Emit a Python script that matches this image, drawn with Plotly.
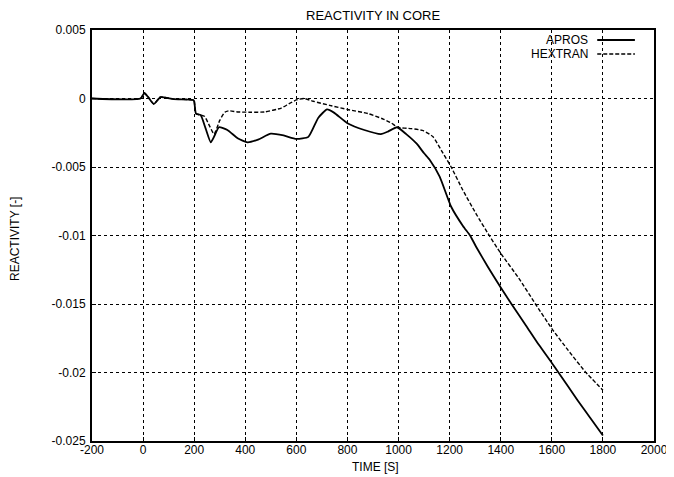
import plotly.graph_objects as go

# ---- data ----
series_names = ["APROS", "HEXTRAN"]

apros_t = [-200, -10, 5, 20, 42, 68, 120, 195, 200, 207, 225, 245, 265, 280, 297,
           330, 370, 409, 450, 500, 550, 600, 647, 686, 720, 747, 800, 866, 931,
           960, 994, 1030, 1071, 1100, 1123, 1161, 1206, 1252, 1280, 1303, 1350,
           1400, 1442, 1500, 1550, 1600, 1626, 1700, 1750, 1800]
apros_r = [0, 0, 0.0004, 0.0001, -0.0004, 0.0001, -0.00005, -0.0001, -0.0002,
           -0.0011, -0.0012, -0.0022, -0.0032, -0.0027, -0.0021, -0.0023, -0.0029,
           -0.0032, -0.0030, -0.00257, -0.0027, -0.00295, -0.0028, -0.0014,
           -0.0008, -0.00103, -0.0018, -0.0023, -0.0026, -0.0024, -0.0021,
           -0.0026, -0.0033, -0.0040, -0.0045, -0.0057, -0.0079, -0.0093,
           -0.0100, -0.0108, -0.0123, -0.0138, -0.0150, -0.0166, -0.0180,
           -0.0193, -0.0200, -0.0220, -0.0233, -0.0246]

hextran_t = [-200, -10, 5, 20, 42, 68, 120, 195, 200, 207, 240, 260, 278, 300, 320,
             335, 370, 420, 475, 541, 570, 600, 630, 666, 730, 800, 880, 940, 973,
             996, 1050, 1097, 1135, 1168, 1206, 1252, 1303, 1355, 1400, 1470, 1536,
             1600, 1665, 1729, 1800]
hextran_r = [0, 0, 0.0004, 0.0001, -0.0004, 0.0001, -0.00005, -0.0001, -0.0002,
             -0.0011, -0.0013, -0.0020, -0.0026, -0.0016, -0.0010, -0.0009,
             -0.00098, -0.0010, -0.00098, -0.0007, -0.0004, -0.0001, 0.0, -0.0002,
             -0.0005, -0.0008, -0.0011, -0.0015, -0.0018, -0.0021, -0.0022,
             -0.00235, -0.0028, -0.0038, -0.0050, -0.0067, -0.0084, -0.0100,
             -0.0113, -0.0131, -0.0150, -0.0168, -0.0184, -0.0199, -0.0213]

x_ticks = [-200, 0, 200, 400, 600, 800, 1000, 1200, 1400, 1600, 1800, 2000]
x_tick_labels = ["-200", "0", "200", "400", "600", "800", "1000", "1200", "1400",
                 "1600", "1800", "2000"]
y_ticks = [0.005, 0, -0.005, -0.01, -0.015, -0.02, -0.025]
y_tick_labels = ["0.005", "0", "-0.005", "-0.01", "-0.015", "-0.02", "-0.025"]

title_text = "REACTIVITY IN CORE"
x_title = "TIME [S]"
y_title = "REACTIVITY [-]"

FONT = "Liberation Sans, Arial, sans-serif"

fig = go.Figure()
fig.add_trace(go.Scatter(x=apros_t, y=apros_r, mode="lines", name=series_names[0],
                         line=dict(color="black", width=1.8, shape="spline",
                                   smoothing=0.5),
                         showlegend=False))
fig.add_trace(go.Scatter(x=hextran_t, y=hextran_r, mode="lines", name=series_names[1],
                         line=dict(color="black", width=1.4, dash="4px,2px",
                                   shape="spline", smoothing=0.5),
                         showlegend=False))

# legend drawn in the style of the original (text left, line sample right)
leg_y = [0.9757, 0.9416]
leg_dash = ["solid", "4px,2px"]
leg_w = [1.8, 1.4]
for i, name in enumerate(series_names):
    fig.add_annotation(xref="paper", yref="paper", x=0.884, y=leg_y[i],
                       text=name, showarrow=False, xanchor="right", yanchor="middle",
                       borderpad=0,
                       font=dict(family=FONT, size=12, color="black"))
    fig.add_shape(type="line", xref="paper", yref="paper",
                  x0=0.899, x1=0.966, y0=leg_y[i], y1=leg_y[i],
                  line=dict(color="black", width=leg_w[i], dash=leg_dash[i]))

# axis titles placed as in the original
fig.add_annotation(xref="paper", yref="paper", x=0.5036, y=-0.063, text=x_title,
                   showarrow=False, xanchor="center", yanchor="middle",
                   font=dict(family=FONT, size=12, color="black"))
fig.add_annotation(xref="paper", yref="paper", x=-0.137, y=0.4915, text=y_title,
                   showarrow=False, xanchor="center", yanchor="middle", textangle=-90,
                   font=dict(family=FONT, size=12, color="black"))

fig.update_layout(
    width=674, height=477,
    margin=dict(l=84, r=28, t=22, b=44),
    paper_bgcolor="white", plot_bgcolor="white",
    font=dict(family=FONT, size=12, color="black"),
    title=dict(text=title_text, x=0.5417, xanchor="center", y=0.985, yanchor="middle",
               font=dict(family=FONT, size=13, color="black"), automargin=False),
)
fig.update_xaxes(range=[-200, 2000], tickvals=x_ticks, ticktext=x_tick_labels,
                 ticks="inside", ticklen=4,
                 tickcolor="black", showgrid=True, gridcolor="black", griddash="dot",
                 gridwidth=1, zeroline=False, showline=True, linecolor="black",
                 linewidth=2, mirror=True, automargin=False, ticklabelstandoff=-3,
                 tickfont=dict(size=12))
fig.update_yaxes(range=[-0.025, 0.005], tickvals=y_ticks, ticktext=y_tick_labels,
                 ticks="inside", ticklen=4, tickcolor="black", showgrid=True,
                 gridcolor="black", griddash="dot", gridwidth=1, zeroline=False,
                 showline=True, linecolor="black", linewidth=2, mirror=True,
                 automargin=False, ticklabelstandoff=2,
                 tickfont=dict(size=12))

fig.write_html("out.html")
